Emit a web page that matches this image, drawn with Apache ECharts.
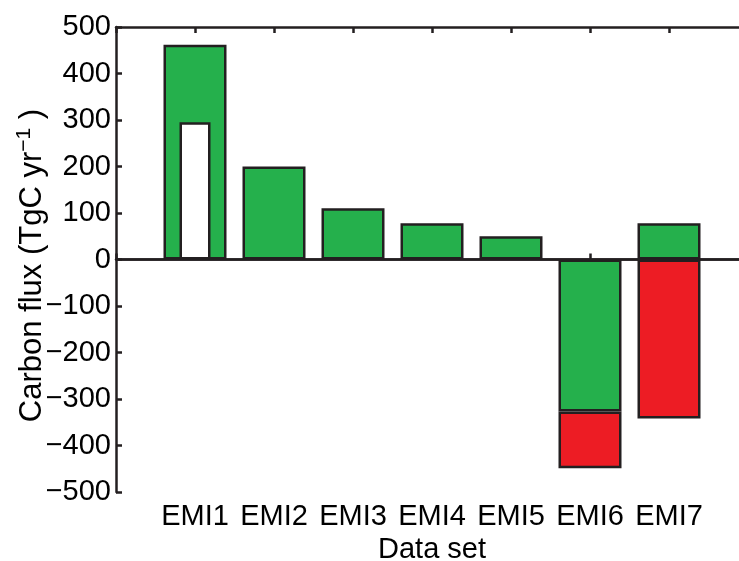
<!DOCTYPE html>
<html>
<head>
<meta charset="utf-8">
<script src="https://cdn.jsdelivr.net/npm/echarts@6/dist/echarts.min.js"></script>
<style>html,body{margin:0;padding:0;background:#fff}#c{width:739px;height:561px}</style>
</head>
<body>
<div id="c"></div>
<script>
var categories = ['', 'EMI1', 'EMI2', 'EMI3', 'EMI4', 'EMI5', 'EMI6', 'EMI7', ''];
var greenValues = [null, 462, 200, 110, 78, 50, -327, 78, null];
var redValues = [null, null, null, null, null, null, -122, -342, null];
var whiteValues = [null, 295, null, null, null, null, null, null, null];
var yTicks = { min: -500, max: 500, interval: 100 };

var INK = '#231f20';
var FONT = 'Liberation Sans, Arial, Helvetica, sans-serif';
var LW = 2.5;
var chart = echarts.init(document.getElementById('c'), null, { renderer: 'canvas' });
var fmtNum = function (v) { return String(v).replace('-', '\u2212'); };
chart.setOption({
  animation: false,
  backgroundColor: '#fff',
  grid: { left: 116, top: 27, bottom: 69, width: 632, containLabel: false, outerBoundsMode: 'none' },
  xAxis: [{
    type: 'category', data: categories, boundaryGap: false, position: 'bottom',
    name: 'Data set', nameLocation: 'middle', nameGap: 43,
    nameTextStyle: { fontSize: 29, color: '#000', fontFamily: FONT },
    axisLine: { lineStyle: { color: INK, width: LW } },
    axisTick: { inside: true, length: 6, lineStyle: { color: INK, width: LW } },
    axisLabel: { fontSize: 29, color: '#000', fontFamily: FONT, margin: 10, interval: 0 },
    splitLine: { show: false }
  }, {
    type: 'category', data: categories, boundaryGap: false, position: 'top',
    axisLine: { lineStyle: { color: INK, width: LW } },
    axisTick: { inside: true, length: 6, lineStyle: { color: INK, width: LW } },
    axisLabel: { show: false },
    splitLine: { show: false }
  }],
  yAxis: {
    type: 'value', min: yTicks.min, max: yTicks.max, interval: yTicks.interval,
    name: '{a|Carbon flux (TgC yr}{s|\u22121}{a| )}', nameLocation: 'middle', nameGap: 65, nameRotate: 90,
    nameMoveOverlap: false,
    nameTextStyle: {
      padding: [0, 12, 0, 0],
      rich: {
        a: { fontSize: 31, color: '#000', fontFamily: FONT },
        s: { fontSize: 21, color: '#000', fontFamily: FONT, padding: [0, 0, 16, 0] }
      }
    },
    axisLine: { show: true, lineStyle: { color: INK, width: LW } },
    axisTick: { show: true, inside: true, length: 6, lineStyle: { color: INK, width: LW } },
    axisLabel: { fontSize: 29, color: '#000', fontFamily: FONT, margin: 5, formatter: fmtNum },
    splitLine: { show: false }
  },
  series: [{
    type: 'bar', name: 'green', stack: 'a', xAxisIndex: 0, data: greenValues, barWidth: 63,
    itemStyle: { color: '#25b04c', borderColor: INK, borderWidth: LW },
    markLine: {
      silent: true, symbol: 'none', label: { show: false },
      lineStyle: { color: INK, width: LW, type: 'solid' },
      data: [{ yAxis: 0 }]
    }
  }, {
    type: 'bar', name: 'red', stack: 'a', xAxisIndex: 0, data: redValues, barWidth: 63,
    itemStyle: { color: '#ed1c24', borderColor: INK, borderWidth: LW }
  }, {
    type: 'bar', name: 'white', xAxisIndex: 1, data: whiteValues, barWidth: 31, z: 3,
    itemStyle: { color: '#ffffff', borderColor: INK, borderWidth: LW }
  }]
});
</script>
</body>
</html>
